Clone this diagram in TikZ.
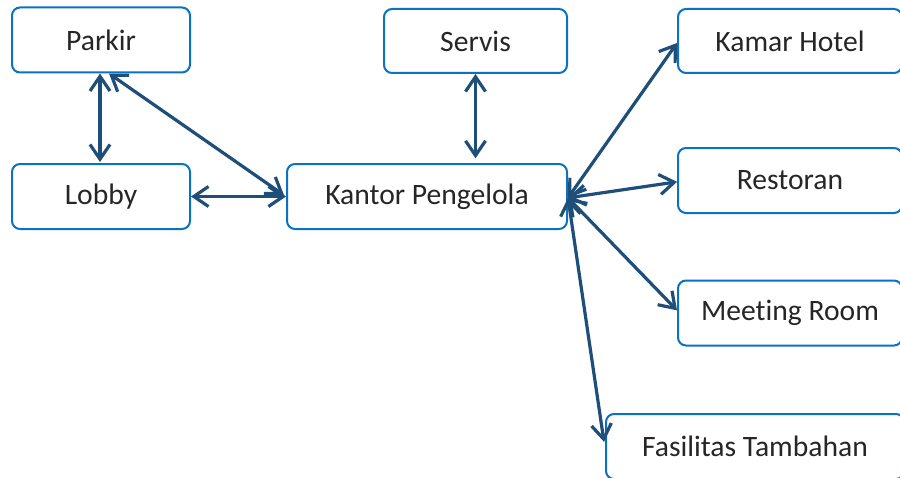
\documentclass[tikz,border=0pt]{standalone}
\usepackage{fontspec}
\setmainfont{Carlito}[Ligatures=NoCommon]
\usetikzlibrary{arrows.meta}
\definecolor{boxblue}{HTML}{0B72C1}
\definecolor{linkblue}{HTML}{1F4E79}
\definecolor{labelgray}{HTML}{262626}
\tikzset{
  box/.style={draw=boxblue, line width=1.5pt, rounded corners=6pt, fill=white,
    text=labelgray, font=\fontsize{22.2}{25}\selectfont,
    minimum height=65*0.75pt, inner sep=0pt},
  lbl/.style={yshift=-1.5pt},
  conn/.style={draw=linkblue, line width=2.4pt,
    {Straight Barb[length=11pt,width=15pt]}-{Straight Barb[length=11pt,width=15pt]}}
}
\begin{document}
\begin{tikzpicture}[x=0.75pt, y=-0.75pt]
  \useasboundingbox (0,0) rectangle (900,478);
  \clip (0,0) rectangle (900,478);

  % boxes
  \node[box, minimum width=178*0.75pt] (parkir) at (101,40) {\raisebox{-1.5pt}{Parkir}};
  \node[box, minimum width=178*0.75pt] (lobby) at (101,196.5) {\raisebox{-1.5pt}{Lobby}};
  \node[box, minimum width=183*0.75pt, minimum height=64*0.75pt] (servis) at (475.5,41) {\raisebox{-1.5pt}{Servis}};
  \node[box, minimum width=280*0.75pt] (kantor) at (427,196.5) {\raisebox{-1.5pt}{Kantor Pengelola}};
  \node[box, minimum width=224*0.75pt, minimum height=64*0.75pt] (kamar) at (790,41) {\raisebox{-1.5pt}{Kamar Hotel}};
  \node[box, minimum width=224*0.75pt] (restoran) at (790,180.5) {\raisebox{-1.5pt}{Restoran}};
  \node[box, minimum width=224*0.75pt] (meeting) at (790,313) {\raisebox{-1.5pt}{Meeting Room}};
  \node[box, minimum width=298*0.75pt] (fasilitas) at (755,446.5) {\raisebox{-1.5pt}{Fasilitas Tambahan}};

  % links
  \draw[conn] ([xshift=-0.75pt]parkir.south) -- ([xshift=-0.75pt,yshift=0.75pt]lobby.north);
  \draw[conn] ([xshift=6pt]parkir.south) -- ([xshift=-1.5pt,yshift=1pt]kantor.west);
  \draw[conn] (lobby.east) -- (kantor.west);
  \draw[conn, shorten >=3.5pt] (servis.south) -- (kantor.north -| servis.south);

  \coordinate (hub) at ([yshift=-1pt]kantor.east);
  \draw[conn] (hub) -- ([yshift=-1.5pt]kamar.west);
  \draw[conn] (hub) -- ([yshift=-1pt]restoran.west);
  \draw[conn] (hub) -- ([yshift=2pt]meeting.west);
  \draw[conn] (hub) -- ([xshift=-0.75pt,yshift=3.5pt]fasilitas.west);
\end{tikzpicture}
\end{document}
